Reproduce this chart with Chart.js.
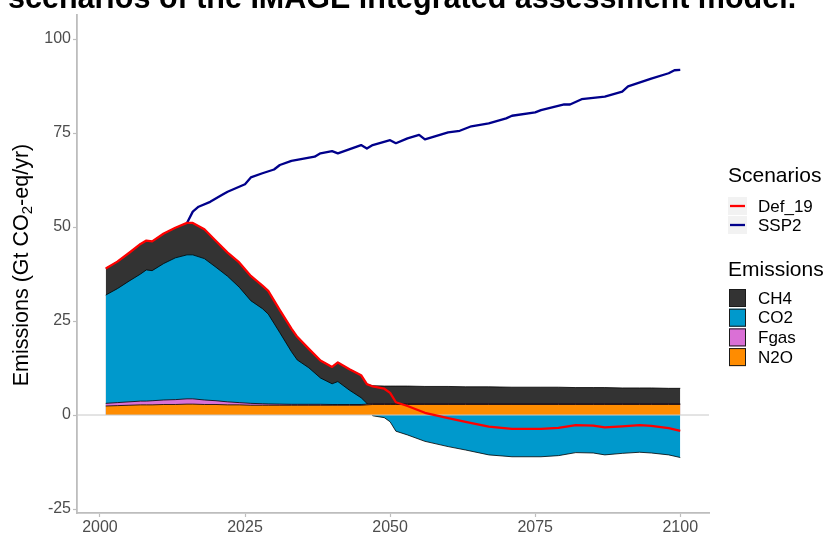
<!DOCTYPE html>
<html>
<head>
<meta charset="utf-8">
<script src="https://cdn.jsdelivr.net/npm/chart.js@4.4.0/dist/chart.umd.min.js"></script>
<style>
  html, body { margin: 0; padding: 0; background: #fff; }
  #wrap { width: 830px; height: 534px; }
</style>
</head>
<body>
<div id="wrap"><canvas id="emissionsChart" width="830" height="534"></canvas></div>
<script>
// values (Gt CO2-eq/yr)
const years = [2001, 2003, 2005, 2007, 2008, 2009, 2011, 2013, 2015, 2016, 2018, 2020, 2022, 2024, 2026, 2028, 2029, 2031, 2033, 2034,
  2036, 2038, 2040, 2041, 2043, 2045, 2046, 2047, 2049, 2050, 2051, 2053, 2056, 2060, 2063, 2067, 2071, 2076, 2079, 2082,
  2085, 2087, 2090, 2093, 2095, 2098, 2100];
const n2o = [2.4, 2.5, 2.6, 2.7, 2.7, 2.7, 2.8, 2.8, 2.9, 2.9, 2.8, 2.8, 2.7, 2.7, 2.6, 2.6, 2.6, 2.6, 2.6, 2.6,
  2.6, 2.6, 2.6, 2.6, 2.6, 2.6, 2.7, 2.8, 2.8, 2.8, 2.8, 2.8, 2.8, 2.8, 2.8, 2.8, 2.8, 2.8, 2.8, 2.8,
  2.8, 2.8, 2.8, 2.8, 2.8, 2.8, 2.8];
const fgas = [0.7, 0.8, 0.9, 1.0, 1.0, 1.1, 1.2, 1.3, 1.4, 1.4, 1.2, 1.0, 0.8, 0.6, 0.5, 0.4, 0.35, 0.3, 0.25, 0.25,
  0.25, 0.25, 0.2, 0.2, 0.2, 0.2, 0.2, 0.2, 0.2, 0.2, 0.2, 0.2, 0.2, 0.2, 0.2, 0.2, 0.2, 0.2, 0.2, 0.2,
  0.2, 0.2, 0.2, 0.2, 0.2, 0.2, 0.2];
const co2 = [28.8, 30.3, 32.1, 33.8, 34.9, 34.6, 36.3, 37.7, 38.3, 38.3, 37.6, 35.5, 33.4, 30.7, 27.3, 25.3, 23.9, 19.0, 14.0, 11.8,
  9.7, 7.0, 5.5, 6.1, 3.8, 1.8, 0.2, -0.2, -0.7, -1.8, -4.3, -5.3, -7.0, -8.4, -9.3, -10.6, -11.1, -11.1, -10.8, -10.0,
  -10.1, -10.6, -10.2, -9.9, -10.1, -10.6, -11.3];
const ch4 = [7.1, 7.2, 7.5, 8.0, 7.8, 7.8, 8.0, 8.0, 8.5, 8.5, 7.8, 7.0, 6.3, 6.6, 6.6, 6.1, 6.2, 6.0, 6.2, 6.2,
  5.1, 4.7, 4.5, 5.1, 5.6, 6.0, 5.1, 4.8, 4.7, 4.7, 4.7, 4.7, 4.6, 4.6, 4.5, 4.5, 4.4, 4.4, 4.4, 4.3,
  4.3, 4.3, 4.2, 4.2, 4.2, 4.1, 4.1];
const def19 = [39.0, 40.8, 43.1, 45.5, 46.4, 46.2, 48.3, 49.8, 51.1, 51.1, 49.4, 46.3, 43.2, 40.6, 37.0, 34.4, 33.0, 27.9, 23.0, 20.8,
  17.6, 14.5, 12.8, 14.0, 12.2, 10.6, 8.2, 7.6, 7.0, 5.9, 3.4, 2.4, 0.6, -0.8, -1.8, -3.1, -3.7, -3.7, -3.4, -2.7,
  -2.8, -3.3, -3.0, -2.7, -2.9, -3.5, -4.2];

const sspYears = [2015, 2016, 2017, 2019, 2021, 2022, 2025, 2026, 2028, 2030, 2031, 2033, 2037, 2038, 2040, 2041, 2045, 2046, 2047, 2050,
  2051, 2053, 2055, 2056, 2060, 2062, 2064, 2067, 2070, 2071, 2075, 2076, 2080, 2081, 2083, 2087, 2090, 2091, 2095, 2098, 2099, 2100];
const ssp2 = [51.1, 54.1, 55.4, 56.7, 58.5, 59.4, 61.4, 63.2, 64.3, 65.3, 66.5, 67.6, 68.7, 69.6, 70.2, 69.6, 71.8, 70.9, 71.8, 73.1,
  72.3, 73.6, 74.5, 73.3, 75.2, 75.6, 76.8, 77.6, 78.9, 79.6, 80.5, 81.1, 82.6, 82.6, 84.0, 84.7, 86.0, 87.4, 89.5, 90.9, 91.7, 91.8];

const xTicks = [2000, 2025, 2050, 2075, 2100];
const yTicks = [-25, 0, 25, 50, 75, 100];

const emissionNames = ["CH4", "CO2", "Fgas", "N2O"];
const emissionColors = ["#333333", "#0099CC", "#DA70D6", "#FF8C00"];
const scenarioNames = ["Def_19", "SSP2"];
const scenarioColors = ["#FF0000", "#00008B"];

const FONT = "'Liberation Sans', Arial, sans-serif";

function pts(xs, ys) {
    return xs.map((x, i) => ({ x: x, y: ys[i] }));
}

function areaSet(label, values, color, order) {
    return {
        label: label,
        data: pts(years, values),
        backgroundColor: color,
        borderColor: "#000000",
        borderWidth: 0.8,
        fill: "origin",
        pointRadius: 0,
        tension: 0,
        order: order
    };
}

function lineSet(label, xs, values, color, order) {
    return {
        label: label,
        data: pts(xs, values),
        borderColor: color,
        borderWidth: 2.3,
        fill: false,
        pointRadius: 0,
        tension: 0,
        stack: label,
        borderJoinStyle: "round",
        order: order
    };
}

// zero line drawn over the stacked areas, under the scenario lines
const zeroLine = {
    id: "zeroLine",
    afterDatasetDraw(chart, args) {
        if (args.meta.label !== "N2O") return;
        let ctx = chart.ctx;
        let y = chart.scales.y.getPixelForValue(0);
        ctx.save();
        ctx.strokeStyle = "#c8c8c8";
        ctx.lineWidth = 1;
        ctx.beginPath();
        ctx.moveTo(chart.chartArea.left, y);
        ctx.lineTo(chart.chartArea.right, y);
        ctx.stroke();
        ctx.restore();
    }
};

const decorations = {
    id: "decorations",
    afterDraw(chart) {
        let ctx = chart.ctx;
        ctx.save();

        // cut-off title at the top
        ctx.fillStyle = "#000";
        ctx.font = "bold 30.5px " + FONT;
        ctx.textAlign = "left";
        ctx.textBaseline = "alphabetic";
        ctx.fillText("scenarios of the IMAGE integrated assessment model.", 8, 8);

        // y axis title with subscript
        ctx.translate(28, 265);
        ctx.rotate(-Math.PI / 2);
        let a = "Emissions (Gt CO", b = "2", c = "-eq/yr)";
        ctx.font = "21.5px " + FONT;
        let wa = ctx.measureText(a).width, wc = ctx.measureText(c).width;
        ctx.font = "15px " + FONT;
        let wb = ctx.measureText(b).width;
        let x0 = -(wa + wb + wc) / 2;
        ctx.textBaseline = "alphabetic";
        ctx.font = "21.5px " + FONT;
        ctx.fillText(a, x0, 0);
        ctx.font = "15px " + FONT;
        ctx.fillText(b, x0 + wa, 4);
        ctx.font = "21.5px " + FONT;
        ctx.fillText(c, x0 + wa + wb, 0);
        ctx.setTransform(1, 0, 0, 1, 0, 0);

        // legends
        ctx.textBaseline = "middle";
        ctx.fillStyle = "#000";
        ctx.font = "21px " + FONT;
        ctx.fillText("Scenarios", 728, 176);
        scenarioNames.forEach((name, i) => {
            let cy = 206 + i * 19;
            ctx.fillStyle = "#f2f2f2";
            ctx.fillRect(728, cy - 9, 19, 18);
            ctx.strokeStyle = scenarioColors[i];
            ctx.lineWidth = 2.3;
            ctx.beginPath();
            ctx.moveTo(730, cy);
            ctx.lineTo(745, cy);
            ctx.stroke();
            ctx.fillStyle = "#000";
            ctx.font = "17px " + FONT;
            ctx.fillText(name, 758, cy + 1);
        });

        ctx.font = "21px " + FONT;
        ctx.fillText("Emissions", 728, 270);
        emissionNames.forEach((name, i) => {
            let cy = 298 + i * 19.7;
            ctx.fillStyle = emissionColors[i];
            ctx.fillRect(729, cy - 9, 17, 18);
            ctx.strokeStyle = "#1a1a1a";
            ctx.lineWidth = 1;
            ctx.strokeRect(729.5, cy - 8.5, 16, 17);
            ctx.fillStyle = "#000";
            ctx.font = "17px " + FONT;
            ctx.fillText(name, 758, cy + 1);
        });
        ctx.restore();
    }
};

const axisGrey = "#bdbdbd";
const tickFont = { family: FONT, size: 16 };

new Chart(document.getElementById("emissionsChart"), {
    type: "line",
    data: {
        datasets: [
            lineSet("Def_19", years, def19, scenarioColors[0], 0),
            lineSet("SSP2", sspYears, ssp2, scenarioColors[1], 1),
            areaSet("N2O", n2o, emissionColors[3], 2),
            areaSet("Fgas", fgas, emissionColors[2], 3),
            areaSet("CO2", co2, emissionColors[1], 4),
            areaSet("CH4", ch4, emissionColors[0], 5)
        ]
    },
    options: {
        responsive: false,
        animation: false,
        layout: { padding: { left: 0, top: 15, right: 121, bottom: 0 } },
        plugins: {
            legend: { display: false },
            title: { display: false },
            tooltip: { enabled: false }
        },
        scales: {
            x: {
                type: "linear",
                min: 1996.05,
                max: 2104.95,
                afterBuildTicks: s => { s.ticks = xTicks.map(v => ({ value: v })); },
                afterFit: s => { s.height = 21; },
                grid: { drawOnChartArea: false, drawTicks: true, tickLength: 4, tickColor: axisGrey, tickWidth: 1.2 },
                border: { display: true, color: axisGrey, width: 1.8 },
                ticks: { color: "#4d4d4d", font: tickFont, padding: 1, maxRotation: 0, callback: v => String(v) }
            },
            y: {
                type: "linear",
                stacked: true,
                min: -26.06,
                max: 106.4,
                afterBuildTicks: s => { s.ticks = yTicks.map(v => ({ value: v })); },
                afterFit: s => { s.width = 77; },
                grid: { drawOnChartArea: false, drawTicks: true, tickLength: 4, tickColor: axisGrey, tickWidth: 1.2 },
                border: { display: true, color: axisGrey, width: 1.8 },
                ticks: { color: "#4d4d4d", font: tickFont, padding: 2, callback: v => String(v) }
            }
        }
    },
    plugins: [zeroLine, decorations]
});
</script>
</body>
</html>
